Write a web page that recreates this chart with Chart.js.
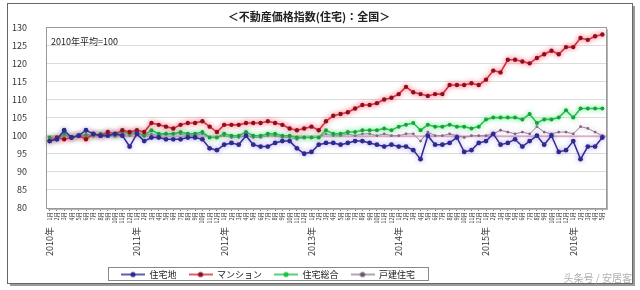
<!DOCTYPE html>
<html>
<head>
<meta charset="utf-8">
<script src="https://cdn.jsdelivr.net/npm/chart.js@4"></script>
<style>
  html, body { margin: 0; background: #fff; }
  canvas { display: block; }
</style>
</head>
<body>
<canvas id="chart" width="640" height="290"></canvas>
<script>
const years = ['2010年', '2011年', '2012年', '2013年', '2014年', '2015年', '2016年']
const months = ['1月', '2月', '3月', '4月', '5月', '6月', '7月', '8月', '9月', '10月', '11月', '12月']
const monthsIn2016 = 5

const seriesNames = ['住宅地', 'マンション', '住宅総合', '戸建住宅']

// 住宅地
const residentialLand = [
  98.5, 99, 101.5, 99.5, 100, 101.5, 100.5, 100, 100, 100.5, 100, 97,
  100.5, 98.5, 99.5, 99.5, 99, 99, 99, 99.5, 99.5, 99, 96.5, 96,
  97.5, 98, 97.5, 100, 97.5, 97, 97, 98, 98.5, 98.5, 96.5, 95,
  95.5, 97.5, 98, 98, 97.5, 98, 98.5, 98.5, 98, 97.5, 97, 97.5,
  97, 97, 96, 93.5, 100, 97.5, 97.5, 98, 99.5, 95.5, 96, 98,
  98.5, 100.5, 97.5, 98, 99, 97, 98.5, 100, 97.5, 100, 95.5, 96,
  98.5, 93.5, 97, 97, 99.5
]
// マンション
const condominium = [
  98.5, 99.5, 99, 99.5, 100, 99, 100.5, 100, 101, 100.5, 101.5, 101,
  101.5, 101, 103.5, 103, 102.5, 102, 103, 103.5, 103.5, 104, 102.5, 101,
  103, 103, 103, 103.5, 103.5, 103.5, 104, 103.5, 103, 102, 101.5, 102,
  102.5, 101.5, 104, 105.5, 106, 106.5, 107.5, 108.5, 108.5, 109, 110, 110.5,
  111.5, 113.5, 112, 111.5, 111, 111.5, 111.5, 114, 114, 114, 114.5, 114,
  115.5, 118, 117.5, 121, 121, 120.5, 120, 121.5, 122.5, 123.5, 122.5, 124.5,
  124.5, 127, 126.5, 127.5, 128
]
// 住宅総合
const housingTotal = [
  99.5, 99, 100.5, 99.5, 100, 100, 100, 100.5, 100.5, 100, 101, 100.5,
  101, 100, 101.5, 100.5, 100.5, 100.5, 101, 100.5, 100.5, 101, 99.5, 99.5,
  100.5, 100, 100, 101, 100, 100, 100.5, 100.5, 100, 100, 99.5, 99.5,
  99.5, 99.5, 101.5, 100.5, 100.5, 101, 101, 101.5, 101.5, 101.5, 102, 101.5,
  102.5, 103, 103.5, 101.5, 103, 102.5, 102.5, 103, 102.5, 102.5, 102, 102.5,
  104.5, 105, 105, 105, 105, 104.5, 106, 103.5, 104.5, 104.5, 105, 107,
  105, 107.5, 107.5, 107.5, 107.5
]
// 戸建住宅
const detachedHouse = [
  99.5, 99, 100, 99.5, 100, 100.5, 100, 100, 100.5, 100, 100.5, 100,
  100.5, 100, 100.5, 100, 100.5, 100.5, 100.5, 100, 100, 100.5, 99.5, 99.5,
  100, 99.5, 99.5, 100, 99.5, 99.5, 100, 100, 99.5, 99.5, 99, 99.5,
  99.5, 99.5, 100.5, 100, 100, 100.5, 100, 100.5, 100.5, 100, 100.5, 100,
  100, 100.5, 100.5, 98.5, 101, 100, 100, 100.5, 100, 99.5, 100, 100,
  100, 100.5, 101.5, 101, 100.5, 101, 100.5, 102.5, 101, 100.5, 101, 101,
  100.5, 102.5, 102, 101, 100
]

const yMin = 80
const yMax = 130
const baseValue = 100
const baseNote = '2010年平均=100'
const titleText = '＜不動産価格指数(住宅)：全国＞'
const watermark = '头条号 / 安居客'

const monthLabels = []
const yearLabels = []
years.forEach((year, i) => {
  const n = i === years.length - 1 ? monthsIn2016 : 12
  for (let m = 0; m < n; m++) {
    monthLabels.push(months[m])
    yearLabels.push(m === 0 ? year : '')
  }
})

const FONT = "'Noto Sans CJK JP', 'Noto Sans', sans-serif"

const colors = {
  land: '#2e2a8e',
  condo: '#d42a35',
  total: '#22c04a',
  detached: '#9a8698'
}

function legendIcon (line, dot) {
  const c = document.createElement('canvas')
  c.width = 24
  c.height = 8
  const ctx = c.getContext('2d')
  ctx.strokeStyle = line
  ctx.lineWidth = 1.5
  ctx.beginPath()
  ctx.moveTo(0, 4)
  ctx.lineTo(24, 4)
  ctx.stroke()
  ctx.fillStyle = dot
  ctx.beginPath()
  ctx.arc(12, 4, 2.6, 0, Math.PI * 2)
  ctx.fill()
  return c
}
const icons = [
  legendIcon(colors.land, colors.land),
  legendIcon(colors.condo, '#8a1020'),
  legendIcon(colors.total, colors.total),
  legendIcon(colors.detached, '#6a5a70')
]

const glows = ['rgba(110,90,220,0.45)', 'rgba(255,90,110,0.85)', 'rgba(90,235,130,0.8)', 'rgba(200,150,200,0.5)']

const decorations = {
  id: 'decorations',
  beforeDraw (chart) {
    const ctx = chart.ctx
    ctx.save()
    ctx.fillStyle = '#fff'
    ctx.fillRect(0, 0, chart.width, chart.height)
    ctx.strokeStyle = '#9a9a9a'
    ctx.lineWidth = 2
    ctx.beginPath()
    ctx.moveTo(634, 6)
    ctx.lineTo(634, 285)
    ctx.lineTo(10, 285)
    ctx.stroke()
    ctx.strokeStyle = '#666'
    ctx.lineWidth = 1
    ctx.strokeRect(7.5, 3.5, 625, 280)
    ctx.restore()
  },
  afterLayout (chart) {
    const lg = chart.legend
    const shift = 121 - lg.options.labels.padding - lg.left
    lg.left += shift
    lg.right += shift
  },
  beforeDatasetsDraw (chart) {
    const { ctx, chartArea: a, scales } = chart
    const y = Math.round(scales.y.getPixelForValue(baseValue)) + 0.5
    ctx.save()
    ctx.strokeStyle = '#e9a6cf'
    ctx.lineWidth = 1.5
    ctx.beginPath()
    ctx.moveTo(a.left, y)
    ctx.lineTo(a.right, y)
    ctx.stroke()
    ctx.restore()
  },
  beforeDatasetDraw (chart, args) {
    const ctx = chart.ctx
    ctx.save()
    ctx.shadowColor = glows[args.index]
    ctx.shadowBlur = 5
  },
  afterDatasetDraw (chart) {
    chart.ctx.restore()
  },
  afterDraw (chart) {
    const { ctx, chartArea: a } = chart
    ctx.save()
    ctx.strokeStyle = '#b5b5b5'
    ctx.lineWidth = 2
    ctx.beginPath()
    ctx.moveTo(a.right + 1, a.top + 2)
    ctx.lineTo(a.right + 1, a.bottom + 1)
    ctx.lineTo(a.left + 2, a.bottom + 1)
    ctx.stroke()
    ctx.strokeStyle = '#999'
    ctx.lineWidth = 1
    ctx.strokeRect(Math.round(a.left) + 0.5, Math.round(a.top) + 0.5, Math.round(a.right - a.left), Math.round(a.bottom - a.top))

    ctx.fillStyle = '#222'
    ctx.font = '9px ' + FONT
    ctx.textBaseline = 'middle'
    ctx.fillText(baseNote, a.left + 5, a.top + 14)

    // legend frame
    const lg = chart.legend
    const pad = lg.options.labels.padding
    const mid = lg.top + lg.height / 2
    ctx.strokeStyle = '#888'
    ctx.strokeRect(Math.round(lg.left + pad - 13) + 0.5, Math.round(mid - 7) + 0.5,
      Math.round(lg.lineWidths[0] + 14), 13)

    ctx.fillStyle = '#b0b0b0'
    ctx.font = '10px ' + FONT
    ctx.textAlign = 'right'
    ctx.fillText(watermark, 632, 278)
    ctx.restore()
  }
}

function series (label, data, color, pointColor, radius, width) {
  return {
    label,
    data,
    borderColor: color,
    backgroundColor: pointColor,
    pointBackgroundColor: pointColor,
    pointBorderColor: pointColor,
    pointRadius: radius,
    pointBorderWidth: 0,
    borderWidth: width,
    tension: 0
  }
}

new Chart('chart', {
  type: 'line',
  data: {
    labels: monthLabels,
    datasets: [
      series(seriesNames[0], residentialLand, colors.land, colors.land, 2.4, 1.5),
      series(seriesNames[1], condominium, colors.condo, '#8a1020', 2.2, 1.6),
      series(seriesNames[2], housingTotal, colors.total, '#1aa03c', 2, 1.6),
      series(seriesNames[3], detachedHouse, colors.detached, '#7a6a80', 1.4, 1)
    ]
  },
  options: {
    responsive: false,
    animation: false,
    layout: { padding: { left: 12, right: 34, top: 8, bottom: 1 } },
    plugins: {
      title: {
        display: true,
        text: titleText,
        color: '#222',
        font: { family: FONT, size: 11 },
        padding: { top: 2, bottom: 4 }
      },
      legend: {
        position: 'bottom',
        align: 'start',
        labels: {
          color: '#222',
          font: { family: FONT, size: 9 },
          usePointStyle: true,
          pointStyleWidth: 24,
          padding: 12,
          generateLabels: chart => Chart.defaults.plugins.legend.labels.generateLabels(chart)
            .map((item, i) => Object.assign(item, { pointStyle: icons[i] }))
        }
      },
      tooltip: { enabled: false }
    },
    scales: {
      y: {
        min: yMin,
        max: yMax,
        afterFit: s => { s.width = 34 },
        ticks: {
          stepSize: 5,
          padding: 19,
          color: '#333',
          font: { family: FONT, size: 9 }
        },
        grid: { color: '#dcdcdc', drawTicks: false },
        border: { display: false }
      },
      x: {
        offset: true,
        afterFit: s => { s.height = 16 },
        ticks: {
          autoSkip: false,
          minRotation: 90,
          maxRotation: 90,
          padding: 1,
          color: '#333',
          font: { family: FONT, size: 5.5 }
        },
        grid: { drawOnChartArea: false, tickLength: 3, color: '#777' },
        border: { display: false }
      },
      x2: {
        type: 'category',
        position: 'bottom',
        labels: yearLabels,
        offset: true,
        afterFit: s => { s.height = 34 },
        ticks: {
          autoSkip: false,
          minRotation: 90,
          maxRotation: 90,
          padding: 3,
          color: '#333',
          font: { family: FONT, size: 9 }
        },
        grid: { display: false, drawTicks: false },
        border: { display: false }
      }
    }
  },
  plugins: [decorations]
})
</script>
</body>
</html>
